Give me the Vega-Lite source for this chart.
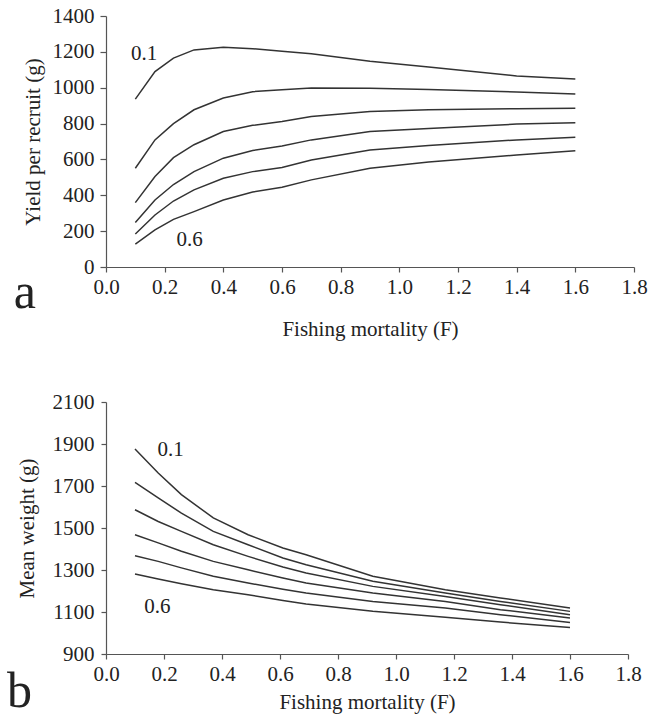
{
  "$schema": "https://vega.github.io/schema/vega-lite/v6.json",
  "padding": {"left": 7, "top": 5, "right": 5, "bottom": 0},
  "background": "white",
  "columns": 1,
  "align": "none",
  "spacing": 52,
  "config": {
    "font": "Liberation Serif, Times New Roman, DejaVu Serif, serif",
    "view": {"stroke": null},
    "text": {"font": "Liberation Serif, Times New Roman, DejaVu Serif, serif"},
    "axis": {
      "grid": false,
      "labelFont": "Liberation Serif, Times New Roman, DejaVu Serif, serif",
      "titleFont": "Liberation Serif, Times New Roman, DejaVu Serif, serif",
      "labelFontSize": 21,
      "titleFontSize": 21,
      "titleFontWeight": "normal",
      "labelColor": "#222",
      "titleColor": "#222",
      "domainColor": "#555",
      "tickColor": "#555",
      "domainWidth": 1.2,
      "tickWidth": 1.2,
      "labelFlush": false,
      "labelOverlap": false
    }
  },
  "datasets": {
    "yield": [
      {"F": 0.1, "M": "0.1", "Y": 936}, {"F": 0.167, "M": "0.1", "Y": 1090}, {"F": 0.23, "M": "0.1", "Y": 1165}, {"F": 0.3, "M": "0.1", "Y": 1211}, {"F": 0.4, "M": "0.1", "Y": 1226}, {"F": 0.5, "M": "0.1", "Y": 1218}, {"F": 0.6, "M": "0.1", "Y": 1204}, {"F": 0.7, "M": "0.1", "Y": 1190}, {"F": 0.9, "M": "0.1", "Y": 1148}, {"F": 1.1, "M": "0.1", "Y": 1115}, {"F": 1.4, "M": "0.1", "Y": 1066}, {"F": 1.6, "M": "0.1", "Y": 1048},
      {"F": 0.1, "M": "0.2", "Y": 551}, {"F": 0.167, "M": "0.2", "Y": 709}, {"F": 0.23, "M": "0.2", "Y": 800}, {"F": 0.3, "M": "0.2", "Y": 877}, {"F": 0.4, "M": "0.2", "Y": 943}, {"F": 0.5, "M": "0.2", "Y": 978}, {"F": 0.6, "M": "0.2", "Y": 988}, {"F": 0.7, "M": "0.2", "Y": 999}, {"F": 0.9, "M": "0.2", "Y": 997}, {"F": 1.1, "M": "0.2", "Y": 990}, {"F": 1.4, "M": "0.2", "Y": 976}, {"F": 1.6, "M": "0.2", "Y": 965},
      {"F": 0.1, "M": "0.3", "Y": 359}, {"F": 0.167, "M": "0.3", "Y": 505}, {"F": 0.23, "M": "0.3", "Y": 610}, {"F": 0.3, "M": "0.3", "Y": 682}, {"F": 0.4, "M": "0.3", "Y": 756}, {"F": 0.5, "M": "0.3", "Y": 790}, {"F": 0.6, "M": "0.3", "Y": 812}, {"F": 0.7, "M": "0.3", "Y": 840}, {"F": 0.9, "M": "0.3", "Y": 868}, {"F": 1.1, "M": "0.3", "Y": 877}, {"F": 1.4, "M": "0.3", "Y": 883}, {"F": 1.6, "M": "0.3", "Y": 885},
      {"F": 0.1, "M": "0.4", "Y": 248}, {"F": 0.167, "M": "0.4", "Y": 374}, {"F": 0.23, "M": "0.4", "Y": 460}, {"F": 0.3, "M": "0.4", "Y": 532}, {"F": 0.4, "M": "0.4", "Y": 607}, {"F": 0.5, "M": "0.4", "Y": 650}, {"F": 0.6, "M": "0.4", "Y": 675}, {"F": 0.7, "M": "0.4", "Y": 709}, {"F": 0.9, "M": "0.4", "Y": 756}, {"F": 1.1, "M": "0.4", "Y": 772}, {"F": 1.4, "M": "0.4", "Y": 797}, {"F": 1.6, "M": "0.4", "Y": 804},
      {"F": 0.1, "M": "0.5", "Y": 184}, {"F": 0.167, "M": "0.5", "Y": 290}, {"F": 0.23, "M": "0.5", "Y": 368}, {"F": 0.3, "M": "0.5", "Y": 430}, {"F": 0.4, "M": "0.5", "Y": 495}, {"F": 0.5, "M": "0.5", "Y": 532}, {"F": 0.6, "M": "0.5", "Y": 555}, {"F": 0.7, "M": "0.5", "Y": 597}, {"F": 0.9, "M": "0.5", "Y": 653}, {"F": 1.1, "M": "0.5", "Y": 678}, {"F": 1.4, "M": "0.5", "Y": 709}, {"F": 1.6, "M": "0.5", "Y": 724},
      {"F": 0.1, "M": "0.6", "Y": 128}, {"F": 0.167, "M": "0.6", "Y": 207}, {"F": 0.23, "M": "0.6", "Y": 266}, {"F": 0.3, "M": "0.6", "Y": 309}, {"F": 0.4, "M": "0.6", "Y": 374}, {"F": 0.5, "M": "0.6", "Y": 418}, {"F": 0.6, "M": "0.6", "Y": 445}, {"F": 0.7, "M": "0.6", "Y": 486}, {"F": 0.9, "M": "0.6", "Y": 551}, {"F": 1.1, "M": "0.6", "Y": 585}, {"F": 1.4, "M": "0.6", "Y": 625}, {"F": 1.6, "M": "0.6", "Y": 649}
    ],
    "weight": [
      {"F": 0.1, "M": "0.1", "Y": 1876}, {"F": 0.18, "M": "0.1", "Y": 1762}, {"F": 0.26, "M": "0.1", "Y": 1659}, {"F": 0.37, "M": "0.1", "Y": 1548}, {"F": 0.49, "M": "0.1", "Y": 1468}, {"F": 0.61, "M": "0.1", "Y": 1405}, {"F": 0.69, "M": "0.1", "Y": 1373}, {"F": 0.92, "M": "0.1", "Y": 1270}, {"F": 1.17, "M": "0.1", "Y": 1206}, {"F": 1.36, "M": "0.1", "Y": 1167}, {"F": 1.6, "M": "0.1", "Y": 1119},
      {"F": 0.1, "M": "0.2", "Y": 1717}, {"F": 0.18, "M": "0.2", "Y": 1643}, {"F": 0.26, "M": "0.2", "Y": 1571}, {"F": 0.37, "M": "0.2", "Y": 1484}, {"F": 0.49, "M": "0.2", "Y": 1420}, {"F": 0.61, "M": "0.2", "Y": 1357}, {"F": 0.69, "M": "0.2", "Y": 1325}, {"F": 0.92, "M": "0.2", "Y": 1246}, {"F": 1.17, "M": "0.2", "Y": 1190}, {"F": 1.36, "M": "0.2", "Y": 1150}, {"F": 1.6, "M": "0.2", "Y": 1103},
      {"F": 0.1, "M": "0.3", "Y": 1587}, {"F": 0.18, "M": "0.3", "Y": 1531}, {"F": 0.26, "M": "0.3", "Y": 1484}, {"F": 0.37, "M": "0.3", "Y": 1420}, {"F": 0.49, "M": "0.3", "Y": 1365}, {"F": 0.61, "M": "0.3", "Y": 1314}, {"F": 0.69, "M": "0.3", "Y": 1286}, {"F": 0.92, "M": "0.3", "Y": 1222}, {"F": 1.17, "M": "0.3", "Y": 1174}, {"F": 1.36, "M": "0.3", "Y": 1135}, {"F": 1.6, "M": "0.3", "Y": 1087},
      {"F": 0.1, "M": "0.4", "Y": 1468}, {"F": 0.18, "M": "0.4", "Y": 1429}, {"F": 0.26, "M": "0.4", "Y": 1389}, {"F": 0.37, "M": "0.4", "Y": 1341}, {"F": 0.49, "M": "0.4", "Y": 1301}, {"F": 0.61, "M": "0.4", "Y": 1262}, {"F": 0.69, "M": "0.4", "Y": 1238}, {"F": 0.92, "M": "0.4", "Y": 1190}, {"F": 1.17, "M": "0.4", "Y": 1150}, {"F": 1.36, "M": "0.4", "Y": 1111}, {"F": 1.6, "M": "0.4", "Y": 1071},
      {"F": 0.1, "M": "0.5", "Y": 1368}, {"F": 0.18, "M": "0.5", "Y": 1341}, {"F": 0.26, "M": "0.5", "Y": 1310}, {"F": 0.37, "M": "0.5", "Y": 1270}, {"F": 0.49, "M": "0.5", "Y": 1238}, {"F": 0.61, "M": "0.5", "Y": 1208}, {"F": 0.69, "M": "0.5", "Y": 1190}, {"F": 0.92, "M": "0.5", "Y": 1150}, {"F": 1.17, "M": "0.5", "Y": 1119}, {"F": 1.36, "M": "0.5", "Y": 1087}, {"F": 1.6, "M": "0.5", "Y": 1050},
      {"F": 0.1, "M": "0.6", "Y": 1281}, {"F": 0.18, "M": "0.6", "Y": 1257}, {"F": 0.26, "M": "0.6", "Y": 1235}, {"F": 0.37, "M": "0.6", "Y": 1206}, {"F": 0.49, "M": "0.6", "Y": 1182}, {"F": 0.61, "M": "0.6", "Y": 1155}, {"F": 0.69, "M": "0.6", "Y": 1138}, {"F": 0.92, "M": "0.6", "Y": 1103}, {"F": 1.17, "M": "0.6", "Y": 1075}, {"F": 1.36, "M": "0.6", "Y": 1052}, {"F": 1.6, "M": "0.6", "Y": 1026}
    ],
    "labA": [{"F": 0.13, "Y": 1189, "label": "0.1"}, {"F": 0.285, "Y": 151, "label": "0.6"}],
    "labB": [{"F": 0.223, "Y": 1870, "label": "0.1"}, {"F": 0.177, "Y": 1123, "label": "0.6"}],
    "letA": [{"F": -0.277, "Y": -229, "label": "a"}],
    "letB": [{"F": -0.298, "Y": 647, "label": "b"}]
  },
  "concat": [
    {
      "width": 528,
      "height": 251,
      "encoding": {
        "x": {"field": "F", "type": "quantitative", "scale": {"domain": [0, 1.8], "nice": false},
          "axis": {"values": [0, 0.2, 0.4, 0.6, 0.8, 1.0, 1.2, 1.4, 1.6, 1.8], "format": ".1f", "labelOverlap": false, "title": "Fishing mortality (F)", "tickSize": 5, "labelPadding": 4, "titlePadding": 21}},
        "y": {"field": "Y", "type": "quantitative", "scale": {"domain": [0, 1400], "nice": false},
          "axis": {"values": [0, 200, 400, 600, 800, 1000, 1200, 1400], "format": "d", "labelOverlap": false, "title": "Yield per recruit (g)", "tickSize": 6, "labelPadding": 6, "titlePadding": 9}}
      },
      "layer": [
        {
          "data": {"name": "yield"},
          "mark": {"type": "line", "color": "#333", "strokeWidth": 1.5},
          "encoding": {"detail": {"field": "M"}}
        },
        {
          "data": {"name": "labA"},
          "mark": {"type": "text", "fontSize": 21, "align": "center", "baseline": "middle", "color": "#222", "font": "Liberation Serif, Times New Roman, DejaVu Serif, serif"},
          "encoding": {"text": {"field": "label"}}
        },
        {
          "data": {"name": "letA"},
          "mark": {"type": "text", "fontSize": 50, "align": "center", "baseline": "alphabetic", "color": "#222", "font": "Liberation Serif, Times New Roman, DejaVu Serif, serif"},
          "encoding": {"text": {"field": "label"}}
        }
      ]
    },
    {
      "width": 522,
      "height": 252,
      "encoding": {
        "x": {"field": "F", "type": "quantitative", "scale": {"domain": [0, 1.8], "nice": false},
          "axis": {"values": [0, 0.2, 0.4, 0.6, 0.8, 1.0, 1.2, 1.4, 1.6, 1.8], "format": ".1f", "labelOverlap": false, "title": "Fishing mortality (F)", "tickSize": 5, "labelPadding": 4, "titlePadding": 7}},
        "y": {"field": "Y", "type": "quantitative", "scale": {"domain": [900, 2100], "nice": false},
          "axis": {"values": [900, 1100, 1300, 1500, 1700, 1900, 2100], "format": "d", "labelOverlap": false, "title": "Mean weight (g)", "tickSize": 5, "labelPadding": 7, "titlePadding": 15}}
      },
      "layer": [
        {
          "data": {"name": "weight"},
          "mark": {"type": "line", "color": "#333", "strokeWidth": 1.5},
          "encoding": {"detail": {"field": "M"}}
        },
        {
          "data": {"name": "labB"},
          "mark": {"type": "text", "fontSize": 21, "align": "center", "baseline": "middle", "color": "#222", "font": "Liberation Serif, Times New Roman, DejaVu Serif, serif"},
          "encoding": {"text": {"field": "label"}}
        },
        {
          "data": {"name": "letB"},
          "mark": {"type": "text", "fontSize": 50, "align": "center", "baseline": "alphabetic", "color": "#222", "font": "Liberation Serif, Times New Roman, DejaVu Serif, serif"},
          "encoding": {"text": {"field": "label"}}
        }
      ]
    }
  ]
}
